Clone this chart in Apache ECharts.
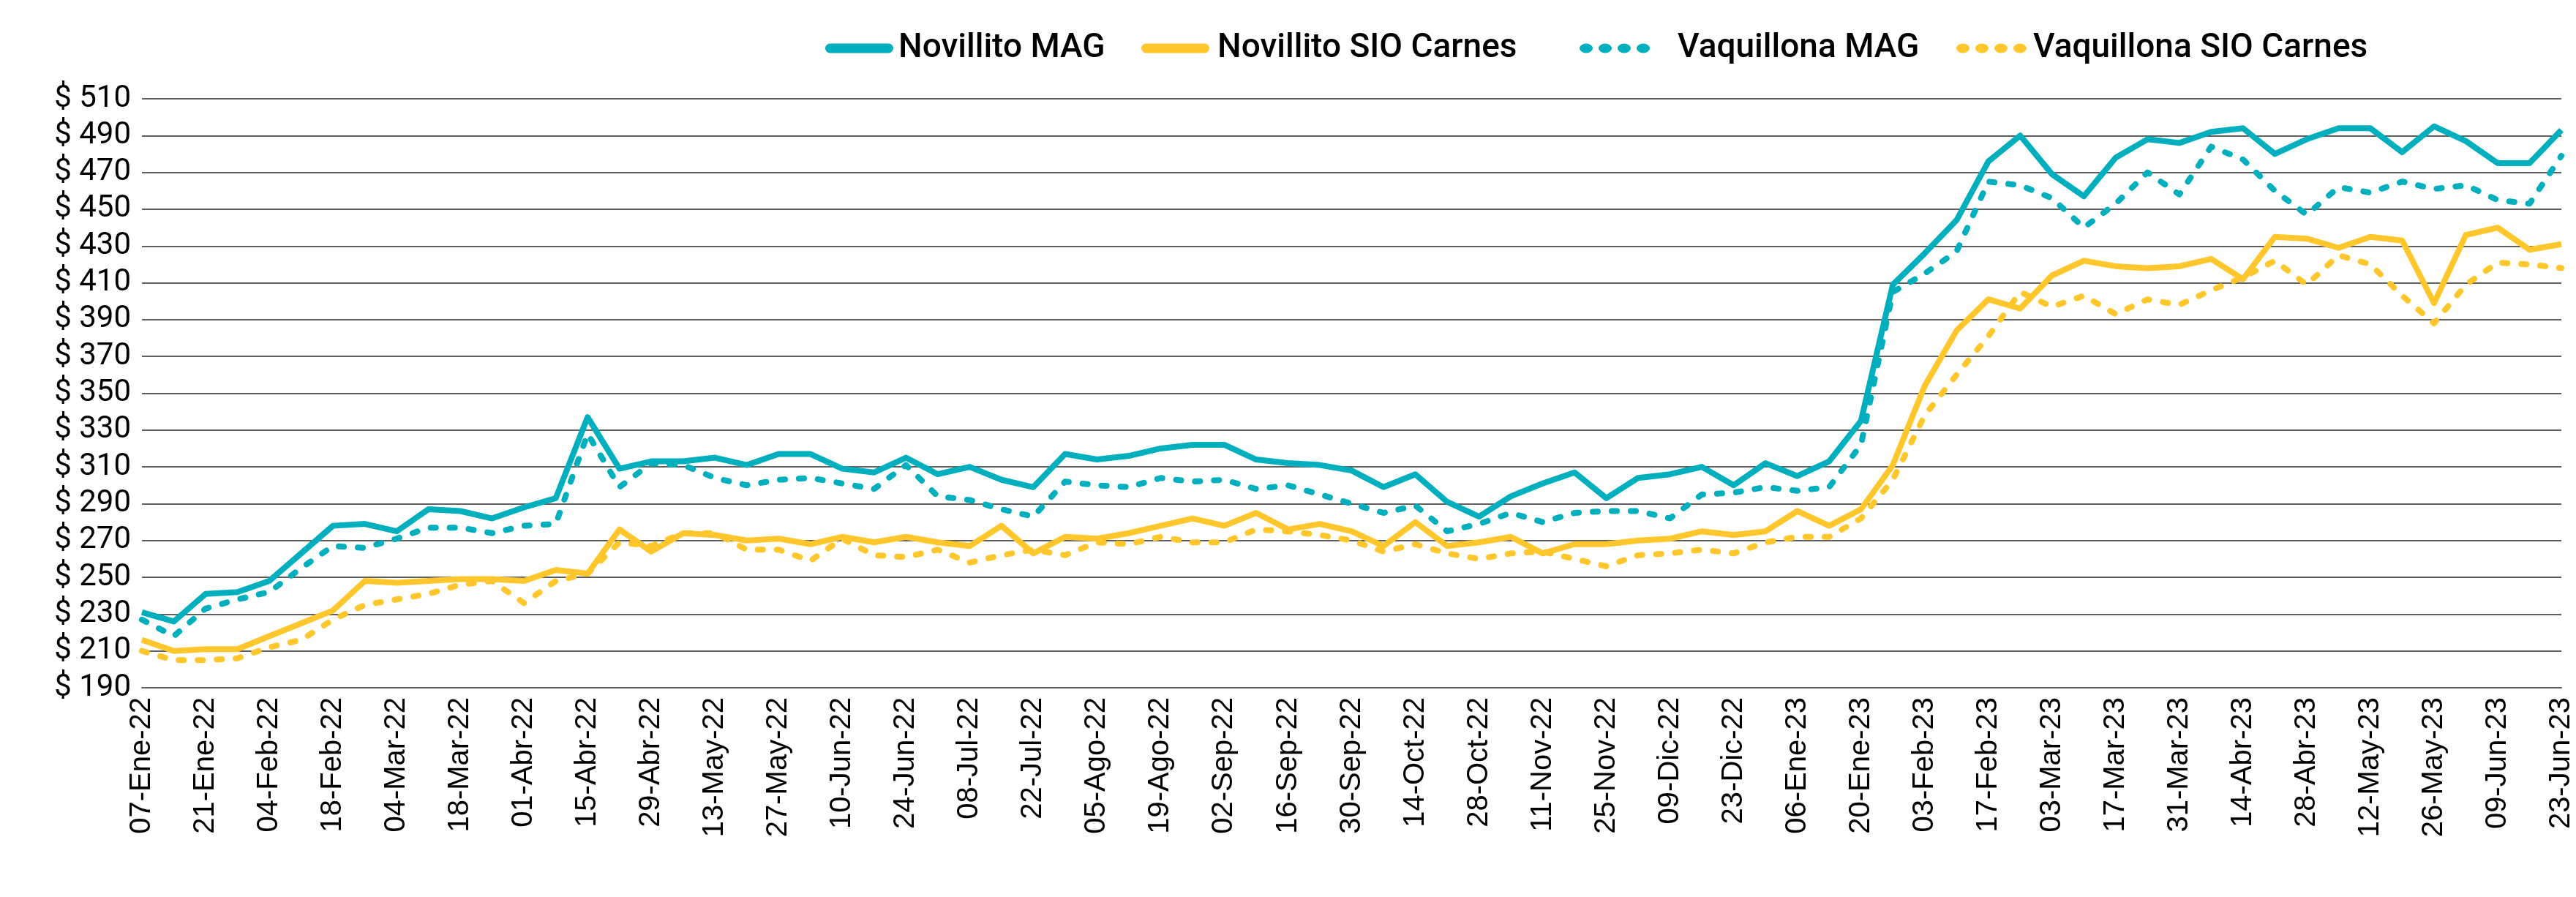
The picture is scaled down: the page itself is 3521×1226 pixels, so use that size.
<!DOCTYPE html>
<html>
<head>
<meta charset="utf-8">
<script src="https://cdn.jsdelivr.net/npm/echarts@6/dist/echarts.min.js"></script>
<style>
html,body{margin:0;padding:0;background:#fff;}
#chart{width:3521px;height:1226px;}
</style>
</head>
<body>
<div id="chart"></div>
<script>
const categories = [
'07-Ene-22','14-Ene-22','21-Ene-22','28-Ene-22','04-Feb-22','11-Feb-22','18-Feb-22','25-Feb-22',
'04-Mar-22','11-Mar-22','18-Mar-22','25-Mar-22','01-Abr-22','08-Abr-22','15-Abr-22','22-Abr-22',
'29-Abr-22','06-May-22','13-May-22','20-May-22','27-May-22','03-Jun-22','10-Jun-22','17-Jun-22',
'24-Jun-22','01-Jul-22','08-Jul-22','15-Jul-22','22-Jul-22','29-Jul-22','05-Ago-22','12-Ago-22',
'19-Ago-22','26-Ago-22','02-Sep-22','09-Sep-22','16-Sep-22','23-Sep-22','30-Sep-22','07-Oct-22',
'14-Oct-22','21-Oct-22','28-Oct-22','04-Nov-22','11-Nov-22','18-Nov-22','25-Nov-22','02-Dic-22',
'09-Dic-22','16-Dic-22','23-Dic-22','30-Dic-22','06-Ene-23','13-Ene-23','20-Ene-23','27-Ene-23',
'03-Feb-23','10-Feb-23','17-Feb-23','24-Feb-23','03-Mar-23','10-Mar-23','17-Mar-23','24-Mar-23',
'31-Mar-23','07-Abr-23','14-Abr-23','21-Abr-23','28-Abr-23','05-May-23','12-May-23','19-May-23',
'26-May-23','02-Jun-23','09-Jun-23','16-Jun-23','23-Jun-23'
];

const novilloMAG = [
231,226,241,242,248,263,278,279,275,287,286,282,288,293,337,309,
313,313,315,311,317,317,309,307,315,306,310,303,299,317,314,316,
320,322,322,314,312,311,308,299,306,291,283,294,301,307,293,304,
306,310,300,312,305,313,335,409,426,444,476,490,469,457,478,488,
486,492,494,480,488,494,494,481,495,487,475,475,493
];

const novilloSIO = [
216,210,211,211,218,225,232,248,247,248,249,249,248,254,252,276,
264,274,273,270,271,268,272,269,272,269,267,278,263,272,271,274,
278,282,278,285,276,279,275,267,280,267,269,272,263,268,268,270,
271,275,273,275,286,278,287,311,354,384,401,396,414,422,419,418,
419,423,412,435,434,429,435,433,399,436,440,428,431
];

const vaquillonaMAG = [
227,218,233,238,242,255,267,266,271,277,277,274,278,279,328,299,
312,311,304,300,303,304,301,298,311,294,292,287,283,302,300,299,
304,302,303,298,300,295,290,285,289,275,279,285,280,285,286,286,
282,295,296,299,297,299,322,405,415,427,465,463,456,440,453,470,
458,484,477,460,447,462,459,465,461,463,455,453,479
];

const vaquillonaSIO = [
210,205,205,206,212,216,227,235,238,241,246,248,236,248,252,269,
267,274,274,265,265,259,271,262,261,265,258,262,265,262,269,268,
272,269,269,276,275,273,270,264,268,263,260,263,264,260,256,262,
263,265,263,269,272,272,282,303,338,360,381,405,397,403,393,401,
398,406,413,422,409,425,420,403,388,409,421,420,418
];

const seriesNames = ['Novillito MAG','Novillito SIO Carnes','Vaquillona MAG','Vaquillona SIO Carnes'];
const yTicks = {min:190, max:510, interval:20};

const TEAL = '#00AFBE';
const YELLOW = '#FFC72C';
const LW = 8;
const DASH = [7, 19];

// legend icon shapes (pill for solid, four ovals for dotted)
const PILL = 'path://M6.5,0 L86.5,0 A6.5,6.5 0 0 1 86.5,13 L6.5,13 A6.5,6.5 0 0 1 6.5,0 Z';
let dotsPath = 'path://';
for (let k = 0; k < 4; k++) {
  const cx = 9 + 26 * k;
  dotsPath += 'M' + (cx - 9) + ',6.5 A9,6.5 0 1 0 ' + (cx + 9) + ',6.5 A9,6.5 0 1 0 ' + (cx - 9) + ',6.5 Z ';
}

const chart = echarts.init(document.getElementById('chart'), null, {renderer:'canvas'});

function mkLegend(name, left, padLeft, dotted){
  return {
    data:[name],
    left:left, top:33,
    orient:'horizontal',
    itemWidth: dotted ? 96 : 93, itemHeight:13,
    icon: dotted ? dotsPath : PILL,
    textStyle:{fontFamily:'Roboto', fontSize:46, fontWeight:500, color:'#000', lineHeight:56, padding:[0,0,0,padLeft]}
  };
}

const option = {
  animation:false,
  backgroundColor:'#fff',
  legend:[
    mkLegend(seriesNames[0], 1123, 2, false),
    mkLegend(seriesNames[1], 1555, 6, false),
    mkLegend(seriesNames[2], 2154, 33, true),
    mkLegend(seriesNames[3], 2669, 4, true)
  ],
  grid:{left:194, right:15, top:135, bottom:286, containLabel:false},
  xAxis:{
    type:'category',
    data:categories,
    boundaryGap:false,
    axisLine:{show:true, lineStyle:{color:'#5f5f5f', width:2}},
    axisTick:{show:false},
    axisLabel:{interval:1, rotate:90, margin:13, fontFamily:'Liberation Sans', fontSize:40, color:'#000'},
    splitLine:{show:false}
  },
  yAxis:{
    type:'value',
    min:yTicks.min, max:yTicks.max, interval:yTicks.interval,
    axisLine:{show:false},
    axisTick:{show:false},
    axisLabel:{margin:15, fontFamily:'Roboto', fontSize:42, color:'#000', formatter:function(v){return '$ ' + v;}},
    splitLine:{show:true, lineStyle:{color:'#5f5f5f', width:2}}
  },
  series:[
    {name:seriesNames[0], type:'line', data:novilloMAG, symbol:'none', lineStyle:{color:TEAL, width:LW, join:'round'}, itemStyle:{color:TEAL}},
    {name:seriesNames[1], type:'line', data:novilloSIO, symbol:'none', lineStyle:{color:YELLOW, width:LW, join:'round'}, itemStyle:{color:YELLOW}},
    {name:seriesNames[2], type:'line', data:vaquillonaMAG, symbol:'none', lineStyle:{color:TEAL, width:LW, type:DASH, cap:'round', join:'round'}, itemStyle:{color:TEAL}},
    {name:seriesNames[3], type:'line', data:vaquillonaSIO, symbol:'none', lineStyle:{color:YELLOW, width:LW, type:DASH, cap:'round', join:'round'}, itemStyle:{color:YELLOW}}
  ]
};
chart.setOption(option);
</script>
</body>
</html>
